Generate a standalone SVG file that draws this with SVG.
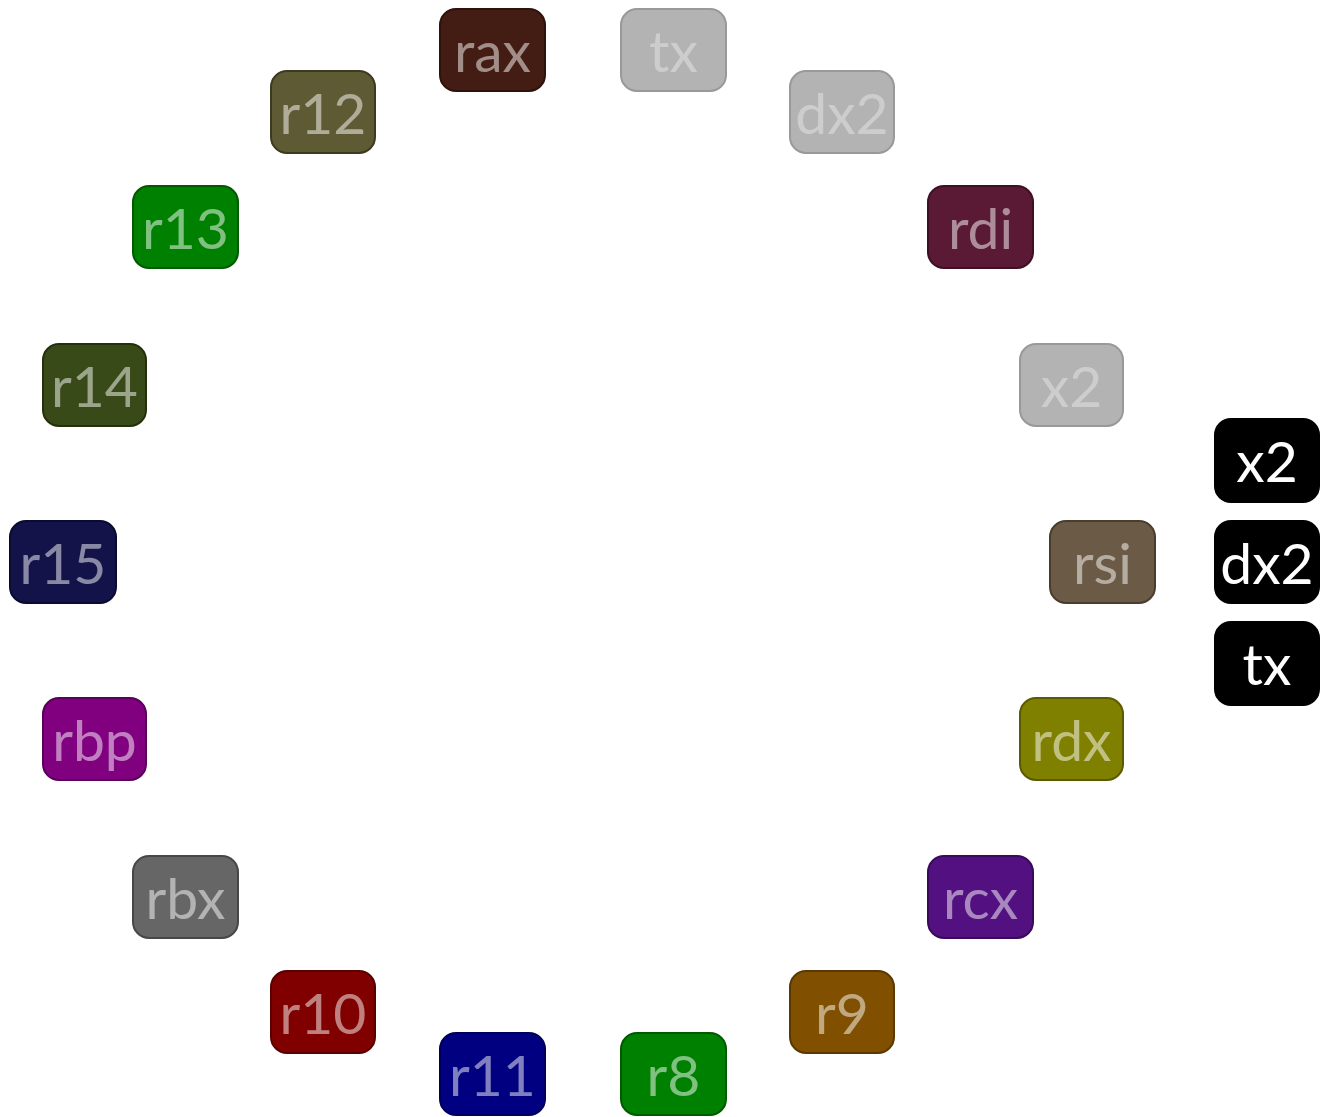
<svg xmlns="http://www.w3.org/2000/svg" width="1320" height="1117" viewBox="0 0 1320 1117">
<style>
  rect.n { stroke-width: 2; }
  text { font-family: "Lato", "Open Sans", "DejaVu Sans", sans-serif; font-size: 57px; text-anchor: middle; fill: #ffffff; fill-opacity: 0.5; }
  text.g { fill-opacity: 0.35; }
  text.w { fill-opacity: 1; }
</style>
<rect width="1320" height="1117" fill="#ffffff"/>
<g id="connectors"/>
<g id="rax"><rect class="n" x="440" y="9" width="105" height="82" rx="16" fill="#431c13" stroke="#2e120b"/><text x="492.5" y="72">rax</text></g>
<g id="tx-gray"><rect class="n" x="621" y="9" width="105" height="82" rx="16" fill="#b3b3b3" stroke="#999999"/><text class="g" x="673.5" y="72">tx</text></g>
<g id="r12"><rect class="n" x="271" y="71" width="104" height="82" rx="16" fill="#5e5a33" stroke="#3c3a1f"/><text x="323" y="134">r12</text></g>
<g id="dx2-gray"><rect class="n" x="790" y="71" width="104" height="82" rx="16" fill="#b3b3b3" stroke="#999999"/><text class="g" x="842" y="134">dx2</text></g>
<g id="r13"><rect class="n" x="133" y="186" width="105" height="82" rx="16" fill="#008000" stroke="#005a00"/><text x="185.5" y="249">r13</text></g>
<g id="rdi"><rect class="n" x="928" y="186" width="105" height="82" rx="16" fill="#5a1a35" stroke="#3e1024"/><text x="980.5" y="249">rdi</text></g>
<g id="r14"><rect class="n" x="43" y="344" width="103" height="82" rx="16" fill="#384a17" stroke="#24300d"/><text x="94.5" y="407">r14</text></g>
<g id="x2-gray"><rect class="n" x="1020" y="344" width="103" height="82" rx="16" fill="#b3b3b3" stroke="#999999"/><text class="g" x="1071.5" y="407">x2</text></g>
<g id="r15"><rect class="n" x="10" y="521" width="106" height="82" rx="16" fill="#13134a" stroke="#0b0b30"/><text x="63" y="584">r15</text></g>
<g id="rsi"><rect class="n" x="1050" y="521" width="105" height="82" rx="16" fill="#6b5a45" stroke="#4a3d2e"/><text x="1102.5" y="584">rsi</text></g>
<g id="rbp"><rect class="n" x="43" y="698" width="103" height="82" rx="16" fill="#800080" stroke="#5a005a"/><text x="94.5" y="761">rbp</text></g>
<g id="rdx"><rect class="n" x="1020" y="698" width="103" height="82" rx="16" fill="#808000" stroke="#5a5a00"/><text x="1071.5" y="761">rdx</text></g>
<g id="rbx"><rect class="n" x="133" y="856" width="105" height="82" rx="16" fill="#666666" stroke="#474747"/><text x="185.5" y="919">rbx</text></g>
<g id="rcx"><rect class="n" x="928" y="856" width="105" height="82" rx="16" fill="#521080" stroke="#390a5a"/><text x="980.5" y="919">rcx</text></g>
<g id="r10"><rect class="n" x="271" y="971" width="104" height="82" rx="16" fill="#800000" stroke="#5a0000"/><text x="323" y="1034">r10</text></g>
<g id="r9"><rect class="n" x="790" y="971" width="104" height="82" rx="16" fill="#805000" stroke="#5a3800"/><text x="842" y="1034">r9</text></g>
<g id="r11"><rect class="n" x="440" y="1033" width="105" height="82" rx="16" fill="#000080" stroke="#00005a"/><text x="492.5" y="1096">r11</text></g>
<g id="r8"><rect class="n" x="621" y="1033" width="105" height="82" rx="16" fill="#008000" stroke="#005a00"/><text x="673.5" y="1096">r8</text></g>
<g id="x2"><rect class="n" x="1215" y="419" width="104" height="83" rx="16" fill="#000000" stroke="#000000"/><text class="w" x="1267" y="482">x2</text></g>
<g id="dx2"><rect class="n" x="1215" y="521" width="104" height="82" rx="16" fill="#000000" stroke="#000000"/><text class="w" x="1267" y="584">dx2</text></g>
<g id="tx"><rect class="n" x="1215" y="622" width="104" height="83" rx="16" fill="#000000" stroke="#000000"/><text class="w" x="1267" y="685">tx</text></g>
</svg>
